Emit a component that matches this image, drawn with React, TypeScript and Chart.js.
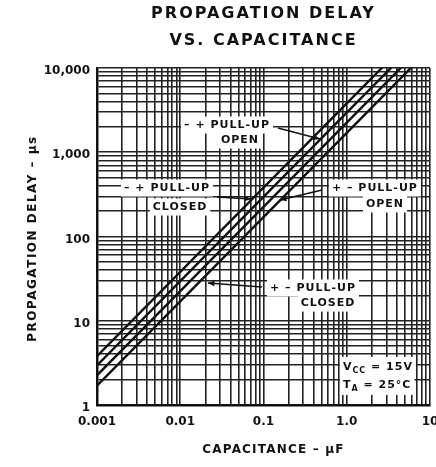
import React, { useEffect, useRef } from 'react';
import { Chart, registerables } from 'chart.js';

Chart.register(...registerables);

// ---- data ----
const capacitance = [0.001, 0.01, 0.1, 1, 10]; // µF
const delayLine1 = [3.8, 38, 380, 3800, 38000]; // µs
const delayLine2 = [2.95, 29.5, 295, 2950, 29500];
const delayLine3 = [2.25, 22.5, 225, 2250, 22500];
const delayLine4 = [1.7, 17, 170, 1700, 17000];

const xTickLabels = ['0.001', '0.01', '0.1', '1.0', '10'];
const yTickLabels = ['1', '10', '100', '1,000', '10,000'];

const titleLines = ['PROPAGATION DELAY', 'VS. CAPACITANCE'];
const xAxisTitle = 'CAPACITANCE – µF';
const yAxisTitle = 'PROPAGATION DELAY – µs';

// annotation texts (anchored in data coordinates: capacitance, delay)
const noteTexts = ['– + PULL-UP', 'OPEN', '– + PULL-UP', 'CLOSED', '+ – PULL-UP', 'OPEN', '+ – PULL-UP', 'CLOSED'];
const noteC = [0.0365, 0.0522, 0.00693, 0.00993, 2.18, 2.88, 0.393, 0.596];
const noteD = [2105, 1398, 376, 224, 376, 243, 24.5, 16.2];

const arrowFromC = [0.149, 0.0276, 0.505, 0.096];
const arrowFromD = [1941, 294, 356, 25.2];
const arrowToC = [0.477, 0.0708, 0.158, 0.0215];
const arrowToD = [1436, 279, 271, 28.1];

const conditionC = 0.9;
const conditionD = [2.83, 1.73];

const FONT = '"DejaVu Sans", "Liberation Sans", Arial, sans-serif';
const INK = '#111';

const decadeIndex = (v: number) => {
  const l = Math.log10(v);
  const r = Math.round(l);
  return Math.abs(l - r) < 1e-6 ? r : null;
};

const dropHalfSteps = (scale: any) => {
  scale.ticks = scale.ticks.filter((t: any) => {
    const e = Math.floor(Math.log10(t.value) + 1e-9);
    const m = t.value / Math.pow(10, e);
    return Math.abs(m - 1.5) > 1e-6;
  });
};

const decorPlugin = {
  id: 'decor',
  afterDatasetsDraw(chart: any) {
    const { ctx, scales } = chart;
    const xs = scales.x;
    const ys = scales.y;
    ctx.save();
    // arrows
    ctx.strokeStyle = INK;
    ctx.fillStyle = INK;
    ctx.lineWidth = 1.5;
    for (let i = 0; i < arrowFromC.length; i++) {
      const x1 = xs.getPixelForValue(arrowFromC[i]);
      const y1 = ys.getPixelForValue(arrowFromD[i]);
      const x2 = xs.getPixelForValue(arrowToC[i]);
      const y2 = ys.getPixelForValue(arrowToD[i]);
      ctx.beginPath();
      ctx.moveTo(x1, y1);
      ctx.lineTo(x2, y2);
      ctx.stroke();
      const ang = Math.atan2(y2 - y1, x2 - x1);
      const L = 7;
      ctx.beginPath();
      ctx.moveTo(x2, y2);
      ctx.lineTo(x2 - L * Math.cos(ang - 0.4), y2 - L * Math.sin(ang - 0.4));
      ctx.lineTo(x2 - L * Math.cos(ang + 0.4), y2 - L * Math.sin(ang + 0.4));
      ctx.closePath();
      ctx.fill();
    }
    // notes
    ctx.font = `bold 11px ${FONT}`;
    (ctx as any).letterSpacing = '1px';
    ctx.textBaseline = 'middle';
    ctx.textAlign = 'center';
    for (let i = 0; i < noteTexts.length; i++) {
      const px = xs.getPixelForValue(noteC[i]);
      const py = ys.getPixelForValue(noteD[i]);
      const w = ctx.measureText(noteTexts[i]).width;
      ctx.fillStyle = '#fff';
      ctx.fillRect(px - w / 2 - 3, py - 8.5, w + 6, 17);
    }
    ctx.fillStyle = INK;
    for (let i = 0; i < noteTexts.length; i++) {
      const px = xs.getPixelForValue(noteC[i]);
      const py = ys.getPixelForValue(noteD[i]);
      ctx.fillText(noteTexts[i], px, py);
    }
    // conditions
    ctx.textAlign = 'left';
    const cx = xs.getPixelForValue(conditionC);
    const rows = [
      { main: 'V', sub: 'CC', rest: ' = 15V' },
      { main: 'T', sub: 'A', rest: ' = 25°C' },
    ];
    const widths = rows.map((r) => {
      ctx.font = `bold 11px ${FONT}`;
      const w1 = ctx.measureText(r.main).width;
      ctx.font = `bold 8px ${FONT}`;
      const w2 = ctx.measureText(r.sub).width;
      ctx.font = `bold 11px ${FONT}`;
      const w3 = ctx.measureText(r.rest).width;
      return [w1, w2, w3];
    });
    rows.forEach((r, i) => {
      const py = ys.getPixelForValue(conditionD[i]);
      const [w1, w2, w3] = widths[i];
      ctx.fillStyle = '#fff';
      ctx.fillRect(cx - 3, py - 10, w1 + w2 + w3 + 6, 20);
    });
    rows.forEach((r, i) => {
      const py = ys.getPixelForValue(conditionD[i]);
      const [w1, w2] = widths[i];
      ctx.fillStyle = INK;
      ctx.font = `bold 11px ${FONT}`;
      ctx.fillText(r.main, cx, py);
      ctx.font = `bold 8px ${FONT}`;
      ctx.fillText(r.sub, cx + w1, py + 4);
      ctx.font = `bold 11px ${FONT}`;
      ctx.fillText(r.rest, cx + w1 + w2, py);
    });
    ctx.restore();
  },
  afterDraw(chart: any) {
    const { ctx, chartArea } = chart;
    ctx.save();
    ctx.fillStyle = INK;
    ctx.textAlign = 'center';
    ctx.textBaseline = 'middle';
    const midX = (chartArea.left + chartArea.right) / 2;
    ctx.font = `bold 16px ${FONT}`;
    (ctx as any).letterSpacing = '2px';
    ctx.fillText(titleLines[0], midX, 14);
    ctx.fillText(titleLines[1], midX, 41);
    ctx.font = `bold 12px ${FONT}`;
    (ctx as any).letterSpacing = '1.2px';
    ctx.fillText(xAxisTitle, midX + 10, 450);
    ctx.save();
    ctx.translate(33, (chartArea.top + chartArea.bottom) / 2 + 2);
    ctx.rotate(-Math.PI / 2);
    (ctx as any).letterSpacing = '1.5px';
    ctx.fillText(yAxisTitle, 0, 0);
    ctx.restore();
    ctx.restore();
  },
};

export default function App() {
  const ref = useRef<HTMLCanvasElement | null>(null);
  useEffect(() => {
    if (!ref.current) return;
    const line = (data: number[]) => ({
      data: capacitance.map((c, i) => ({ x: c, y: data[i] })),
      borderColor: INK,
      borderWidth: 2.4,
      pointRadius: 0,
      fill: false,
      tension: 0,
    });
    const chart = new Chart(ref.current, {
      type: 'line',
      data: {
        datasets: [line(delayLine1), line(delayLine2), line(delayLine3), line(delayLine4)],
      },
      options: {
        responsive: false,
        animation: false,
        devicePixelRatio: 1,
        layout: { padding: { top: 68, left: 0, right: 6, bottom: 0 } },
        plugins: { legend: { display: false }, tooltip: { enabled: false }, title: { display: false } },
        scales: {
          x: {
            type: 'logarithmic',
            min: 0.001,
            max: 10,
            afterBuildTicks: dropHalfSteps,
            afterFit: (s: any) => {
              s.height = 62;
              s.paddingLeft = 0;
              s.paddingRight = 0;
            },
            grid: { color: '#222', lineWidth: 1.6, drawTicks: false },
            border: { display: true, color: INK, width: 2.5 },
            ticks: {
              autoSkip: false,
              maxRotation: 0,
              padding: 10,
              color: INK,
              font: { family: FONT, size: 12, weight: 'bold' },
              callback: (v: any) => {
                const r = decadeIndex(Number(v));
                return r === null ? '' : xTickLabels[r + 3];
              },
            },
          },
          y: {
            type: 'logarithmic',
            min: 1,
            max: 10000,
            afterBuildTicks: dropHalfSteps,
            afterFit: (s: any) => {
              s.width = 97;
              s.paddingTop = 0;
              s.paddingBottom = 0;
            },
            grid: { color: '#222', lineWidth: 1.6, drawTicks: false },
            border: { display: true, color: INK, width: 2.5 },
            ticks: {
              autoSkip: false,
              padding: 7,
              labelOffset: 3,
              color: INK,
              font: { family: FONT, size: 12, weight: 'bold' },
              callback: (v: any) => {
                const r = decadeIndex(Number(v));
                return r === null ? '' : yTickLabels[r];
              },
            },
          },
        },
      } as any,
      plugins: [decorPlugin],
    });
    return () => chart.destroy();
  }, []);
  return (
    <div style={{ position: 'absolute', left: 0, top: 0, width: 436, height: 467, background: '#fff' }}>
      <canvas ref={ref} width={436} height={467} style={{ display: 'block' }} />
    </div>
  );
}
